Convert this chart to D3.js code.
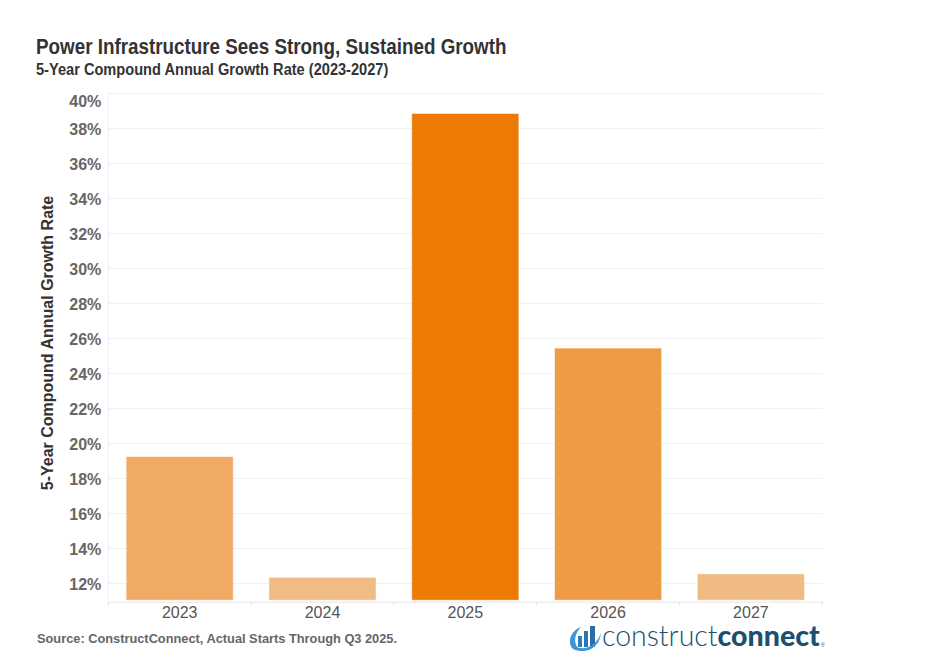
<!DOCTYPE html>
<html>
<head>
<meta charset="utf-8">
<script src="https://cdn.jsdelivr.net/npm/d3@7"></script>
<style>
  body { margin: 0; background: #fff; }
  svg { display: block; font-family: "Liberation Sans", Arial, sans-serif; }
</style>
</head>
<body>
<svg id="chart" width="942" height="672"></svg>
<script>
// data
var years = ["2023", "2024", "2025", "2026", "2027"];
var cagr = [19.2, 12.3, 38.8, 25.4, 12.5];
var yTicks = [12, 14, 16, 18, 20, 22, 24, 26, 28, 30, 32, 34, 36, 38, 40];

var svg = d3.select("#chart");
var paneLeft = 108.3, paneRight = 822.3, paneTop = 92.5, paneBottom = 601.7;

var x = d3.scaleBand()
    .domain(years)
    .range([paneLeft, paneRight])
    .paddingInner(0.25)
    .paddingOuter(0.125);

var y = d3.scaleLinear()
    .domain([10.91, 40])
    .range([paneBottom, paneTop]);

// colour by value, light to dark orange
var color = d3.scaleLinear()
    .domain([d3.min(cagr), d3.max(cagr)])
    .range(["#F0BB84", "#EC7A04"]);

// titles (the original font is a bit narrower, so squeeze horizontally)
svg.append("text")
    .attr("transform", "translate(36,54) scale(0.88,1)")
    .style("font-size", "21.4px").style("font-weight", "bold")
    .style("fill", "#333")
    .text("Power Infrastructure Sees Strong, Sustained Growth");

svg.append("text")
    .attr("transform", "translate(36,75) scale(0.88,1)")
    .style("font-size", "16.6px").style("font-weight", "bold")
    .style("fill", "#333")
    .text("5-Year Compound Annual Growth Rate (2023-2027)");

// gridlines
svg.append("g")
    .selectAll("line")
    .data(yTicks)
    .enter().append("line")
    .attr("x1", paneLeft).attr("x2", paneRight)
    .attr("y1", function (d) { return Math.round(y(d)) + 0.5; })
    .attr("y2", function (d) { return Math.round(y(d)) + 0.5; })
    .style("stroke", "#f0f0f0");

// left border of pane
svg.append("line")
    .attr("x1", paneLeft).attr("x2", paneLeft)
    .attr("y1", paneTop).attr("y2", paneBottom)
    .style("stroke", "#f0f0f0");

// y axis labels
var yAxis = d3.axisLeft(y)
    .tickValues(yTicks)
    .tickSize(0)
    .tickPadding(7)
    .tickFormat(function (d) { return d + "%"; });

var gy = svg.append("g")
    .attr("transform", "translate(" + paneLeft + ",2)")
    .call(yAxis);
gy.select(".domain").remove();
gy.selectAll("text")
    .style("font-family", "Liberation Sans, Arial, sans-serif")
    .style("font-size", "16px").style("font-weight", "bold")
    .style("fill", "#666");
// keep top label inside the pane
gy.selectAll(".tick").filter(function (d) { return d === 40; })
    .select("text").attr("dy", "0.78em");

// y axis title
svg.append("text")
    .attr("transform", "translate(53,343) rotate(-90)")
    .attr("text-anchor", "middle")
    .style("font-size", "16px").style("font-weight", "bold")
    .style("fill", "#333")
    .text("5-Year Compound Annual Growth Rate");

// bars
svg.append("g")
    .selectAll("rect")
    .data(cagr)
    .enter().append("rect")
    .attr("x", function (d, i) { return x(years[i]); })
    .attr("width", x.bandwidth())
    .attr("y", function (d) { return y(d); })
    .attr("height", function (d) { return paneBottom - 1.5 - y(d); })
    .style("fill", function (d) { return color(d); })
    .style("stroke", "#fff")
    .style("stroke-opacity", 0.5)
    .style("stroke-width", 1);

// x axis
var xAxis = d3.axisBottom(x).tickSize(0).tickPadding(5);
var gx = svg.append("g")
    .attr("transform", "translate(0," + paneBottom + ")")
    .call(xAxis);
gx.select(".domain").style("stroke", "#e6e6e6");
gx.selectAll("text")
    .style("font-family", "Liberation Sans, Arial, sans-serif")
    .style("font-size", "16px")
    .style("fill", "#555");

// separators between categories
var step = x.step();
svg.append("g")
    .selectAll("line")
    .data(d3.range(years.length + 1))
    .enter().append("line")
    .attr("x1", function (i) { return paneLeft + i * step; })
    .attr("x2", function (i) { return paneLeft + i * step; })
    .attr("y1", paneBottom).attr("y2", paneBottom + 4)
    .style("stroke", "#e6e6e6");

// source
svg.append("text")
    .attr("x", 37).attr("y", 643)
    .style("font-size", "12.8px").style("font-weight", "bold")
    .style("fill", "#666")
    .text("Source: ConstructConnect, Actual Starts Through Q3 2025.");

// logo
var logo = svg.append("g").attr("transform", "translate(567,623)");
logo.append("rect").attr("x", 11).attr("y", 13).attr("width", 4).attr("height", 11).style("fill", "#2f7fc0");
logo.append("rect").attr("x", 17).attr("y", 8).attr("width", 4).attr("height", 16).style("fill", "#2a74b3");
logo.append("rect").attr("x", 23).attr("y", 3).attr("width", 5).attr("height", 21).style("fill", "#2a6ca8");
logo.append("path")
    .attr("d", "M6,26 C0,20 3,8 14,4 C9,9 6,17 10,24 C18,28 30,22 34,10 C33,24 20,32 6,26 Z")
    .style("fill", "#3b95d6");

var logoText = svg.append("text")
    .attr("x", 602).attr("y", 646)
    .style("font-family", "Lato, sans-serif")
    .style("font-size", "28.5px")
    .style("fill", "#1d4f70");
logoText.append("tspan").style("font-weight", 300).text("construct");
logoText.append("tspan").style("font-weight", 900).text("connect");
svg.append("text")
    .attr("x", 821).attr("y", 647)
    .style("font-size", "5px").style("fill", "#1d4f70")
    .text("®");
</script>
</body>
</html>
